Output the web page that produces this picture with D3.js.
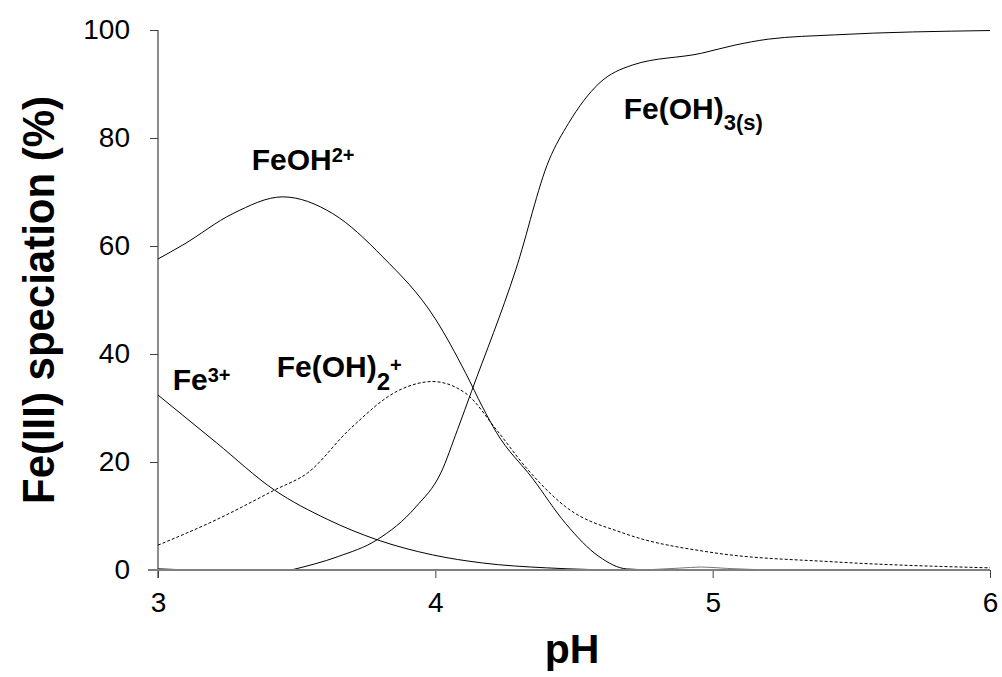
<!DOCTYPE html>
<html>
<head>
<meta charset="utf-8">
<script src="https://cdn.jsdelivr.net/npm/d3@7"></script>
<style>
  html, body { margin: 0; padding: 0; background: #fff; }
  svg { display: block; font-family: Arial, "Liberation Sans", sans-serif; }
</style>
</head>
<body>
<svg id="chart" width="1002" height="677"></svg>
<script>
// ---- Data (pH, % speciation) ----
const xTicks = [3, 4, 5, 6];
const yTicks = [0, 20, 40, 60, 80, 100];

const fe3 = [
  [3.00, 32.4], [3.21, 23.6], [3.42, 14.8], [3.61, 9.4], [3.79, 5.6],
  [3.99, 2.8], [4.17, 1.3], [4.40, 0.4], [4.70, 0.0], [5.20, 0.0], [6.00, 0.0]
];
const feoh = [
  [3.00, 57.6], [3.09, 60.2], [3.27, 66.0], [3.45, 69.1], [3.63, 66.0],
  [3.81, 58.0], [4.00, 46.5], [4.11, 36.4], [4.17, 30.2], [4.22, 25.5],
  [4.35, 17.0], [4.47, 8.6], [4.59, 2.5], [4.69, 0.2], [4.80, 0.0],
  [5.40, 0.0], [6.00, 0.0]
];
const feoh2 = [
  [3.00, 4.6], [3.21, 9.3], [3.42, 14.8], [3.54, 18.0], [3.69, 26.0],
  [3.87, 33.3], [3.99, 34.9], [4.11, 32.7], [4.22, 26.0], [4.33, 18.8],
  [4.47, 11.7], [4.68, 6.8], [4.99, 3.3], [5.44, 1.5], [6.00, 0.4]
];
const feoh3 = [
  [3.48, 0.0], [3.65, 2.5], [3.79, 5.6], [3.93, 11.7], [4.02, 18.0],
  [4.08, 26.0], [4.13, 33.0], [4.29, 55.6], [4.41, 75.9],
  [4.48, 82.7], [4.59, 90.1], [4.71, 93.5], [4.96, 95.7], [5.08, 97.2],
  [5.20, 98.3], [5.44, 99.1], [6.00, 99.9]
];
const minorA = [[3.00, 0.25], [3.06, 0.1], [3.13, 0.0]];
const minorB = [[4.75, 0.0], [4.88, 0.35], [4.96, 0.55], [5.05, 0.3], [5.20, 0.0]];

const labels = [
  { x: 3.053, y: 33.3, main: "Fe", sup: "3+" },
  { x: 3.338, y: 74.1, main: "FeOH", sup: "2+" },
  { x: 3.428, y: 35.8, main: "Fe(OH)", sub: "2", sup: "+" },
  { x: 4.679, y: 83.5, main: "Fe(OH)", sub: "3(s)" }
];

// ---- Chart ----
const svg = d3.select("#chart");
const x = d3.scaleLinear().domain([3, 6]).range([158, 990]);
const y = d3.scaleLinear().domain([0, 100]).range([570, 30]);
const FONT = "Arial, 'Liberation Sans', sans-serif";

// axes
const yAxis = d3.axisLeft(y).tickValues(yTicks).tickFormat(d3.format("d"))
  .tickSize(8).tickSizeOuter(0).tickPadding(20);
const gy = svg.append("g").attr("transform", `translate(${x(3)},0)`).call(yAxis);
gy.select(".domain").remove();
gy.selectAll(".tick line").attr("stroke", "#404040").attr("stroke-width", 1);
gy.selectAll(".tick text").attr("font-size", 28).attr("fill", "#000").attr("font-family", FONT);

const xAxis = d3.axisBottom(x).tickValues(xTicks).tickFormat(d3.format("d"))
  .tickSize(8).tickSizeOuter(0).tickPadding(14);
const gx = svg.append("g").attr("transform", `translate(0,${y(0)})`).call(xAxis);
gx.select(".domain").remove();
gx.selectAll(".tick line").attr("stroke", "#404040").attr("stroke-width", 1);
gx.selectAll(".tick text").attr("font-size", 28).attr("fill", "#000").attr("font-family", FONT);

// y axis line
svg.append("line")
  .attr("x1", x(3)).attr("x2", x(3)).attr("y1", y(100)).attr("y2", y(0) + 8)
  .attr("stroke", "#404040").attr("stroke-width", 1.2);

// lines
const line = d3.line()
  .x(d => x(d[0])).y(d => y(d[1]))
  .curve(d3.curveMonotoneX);

const series = [
  { data: minorA, dash: null, color: "#333" },
  { data: minorB, dash: null, color: "#777" },
  { data: fe3, dash: null, color: "#000" },
  { data: feoh, dash: null, color: "#000" },
  { data: feoh2, dash: "3,2", color: "#000" },
  { data: feoh3, dash: null, color: "#000" }
];
svg.append("g").selectAll("path").data(series).join("path")
  .attr("d", d => line(d.data))
  .attr("fill", "none")
  .attr("stroke", d => d.color)
  .attr("stroke-width", 1)
  .attr("stroke-dasharray", d => d.dash);

// x axis line
svg.append("line")
  .attr("x1", x(3) - 10).attr("x2", x(6)).attr("y1", y(0)).attr("y2", y(0))
  .attr("stroke", "#808080").attr("stroke-width", 2);

// axis titles
svg.append("text")
  .attr("x", (x(3) + x(6)) / 2 - 2).attr("y", 663)
  .attr("text-anchor", "middle").attr("font-weight", "bold").attr("font-size", 41)
  .text("pH");

svg.append("text")
  .attr("transform", `translate(54,${(y(0) + y(100)) / 2}) rotate(-90)`)
  .attr("text-anchor", "middle").attr("font-weight", "bold").attr("font-size", 45)
  .attr("textLength", 408).attr("lengthAdjust", "spacingAndGlyphs")
  .text("Fe(III) speciation (%)");

// species labels
labels.forEach(l => {
  const t = svg.append("text")
    .attr("x", x(l.x)).attr("y", y(l.y))
    .attr("font-weight", "bold").attr("font-size", 30);
  t.append("tspan").text(l.main);
  if (l.sub) {
    t.append("tspan").attr("font-size", l.sub.length > 1 ? 22 : 24)
      .attr("dy", l.sub.length > 1 ? 11 : 13).text(l.sub);
  }
  if (l.sup) {
    t.append("tspan").attr("font-size", 20).attr("dy", l.sub ? -18 : -8).text(l.sup);
  }
});
</script>
</body>
</html>
